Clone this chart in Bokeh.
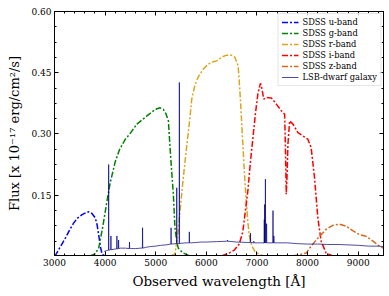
from bokeh.plotting import figure
from bokeh.models import (FixedTicker, PrintfTickFormatter, LinearAxis, Range1d,
                          Legend, LegendItem, CustomLabelingPolicy)
from bokeh.embed import file_html
from bokeh.resources import INLINE

# ---------------- data ----------------
u_wl = [3000, 3020, 3100, 3217, 3300, 3380, 3460, 3545, 3620, 3675, 3740, 3807, 3840, 3873, 3905, 3940, 4000]
u_f = [0.001, 0.003, 0.020, 0.045, 0.065, 0.082, 0.094, 0.102, 0.107, 0.109, 0.105, 0.094, 0.078, 0.053, 0.025, 0.005, 0.001]

g_wl = [3700, 3800, 3873, 3950, 4037, 4100, 4200, 4286, 4400, 4500, 4628, 4825, 4990, 5087, 5150, 5200,
        5250, 5283, 5320, 5348, 5380, 5420, 5447, 5520, 5610, 5700]
g_f = [0.001, 0.006, 0.020, 0.070, 0.135, 0.180, 0.232, 0.262, 0.287, 0.302, 0.324, 0.344, 0.360, 0.364, 0.360, 0.350,
       0.332, 0.266, 0.200, 0.152, 0.070, 0.032, 0.020, 0.010, 0.004, 0.001]

r_wl = [5300, 5380, 5430, 5480, 5530, 5590, 5640, 5680, 5711, 5776, 5841, 5940, 6039, 6138, 6204, 6302, 6400,
        6499, 6562, 6628, 6655, 6680, 6710, 6745, 6780, 6815, 6850, 6900, 6960, 7050, 7150]
r_f = [0.001, 0.006, 0.045, 0.110, 0.175, 0.245, 0.300, 0.345, 0.385, 0.420, 0.440, 0.459, 0.471, 0.477, 0.479, 0.488, 0.493,
       0.493, 0.488, 0.467, 0.420, 0.370, 0.300, 0.220, 0.150, 0.090, 0.050, 0.025, 0.012, 0.004, 0.001]

i_wl = [6300, 6450, 6550, 6650, 6720, 6770, 6820, 6870, 6920, 6970, 7020, 7069, 7100, 7134, 7187, 7285, 7383, 7480,
        7547, 7565, 7579, 7595, 7612, 7646, 7711, 7809, 7908, 8006, 8071, 8137, 8203, 8268, 8366, 8500]
i_f = [0.001, 0.008, 0.015, 0.030, 0.060, 0.110, 0.160, 0.230, 0.290, 0.350, 0.400, 0.424, 0.410, 0.385, 0.389, 0.388, 0.373, 0.357,
       0.348, 0.250, 0.152, 0.200, 0.275, 0.332, 0.324, 0.303, 0.295, 0.287, 0.266, 0.193, 0.094, 0.037, 0.008, 0.001]

z_wl = [7700, 7843, 7974, 8039, 8170, 8268, 8366, 8498, 8630, 8760, 8891, 9024, 9155, 9252, 9337, 9417, 9500]
z_f = [0.001, 0.004, 0.008, 0.020, 0.040, 0.053, 0.066, 0.076, 0.079, 0.074, 0.063, 0.053, 0.049, 0.041, 0.033, 0.025, 0.020]

# galaxy spectrum: continuum samples plus emission lines (centre, local continuum, peak)
cont_wl = [3980, 4030, 4100, 4200, 4300, 4400, 4500, 4600, 4700, 4800, 4900, 5000, 5100, 5200, 5300, 5400,
           5500, 5600, 5700, 5800, 5900, 6000, 6200, 6400, 6600, 6800, 7000, 7200, 7400, 7600, 7800, 8000,
           8200, 8400, 8600, 8800, 9000, 9200, 9400, 9500]
cont_f = [0.012, 0.014, 0.016, 0.018, 0.020, 0.020, 0.019, 0.019, 0.020, 0.022, 0.024, 0.025, 0.027, 0.028, 0.030, 0.031,
          0.032, 0.033, 0.033, 0.034, 0.035, 0.035, 0.036, 0.037, 0.035, 0.034, 0.033, 0.033, 0.033, 0.033, 0.031, 0.030,
          0.030, 0.029, 0.029, 0.028, 0.027, 0.025, 0.025, 0.024]
line_wl = [4070, 4115, 4233, 4266, 4482, 4740, 5303, 5415, 5467, 5664, 6418, 6871, 6937, 7145, 7152, 7167, 7190, 7317, 7334]
line_base = [0.015, 0.016, 0.018, 0.019, 0.019, 0.020, 0.030, 0.031, 0.031, 0.033, 0.037, 0.034, 0.033, 0.033, 0.033, 0.033, 0.033, 0.033, 0.033]
line_peak = [0.225, 0.050, 0.050, 0.040, 0.035, 0.070, 0.070, 0.168, 0.426, 0.060, 0.040, 0.057, 0.037, 0.090, 0.127, 0.189, 0.080, 0.112, 0.050]

# assemble the spectrum polyline from the listed values
pts = list(zip(cont_wl, cont_f))
for c, b, pk in zip(line_wl, line_base, line_peak):
    pts += [(c - 4, b), (c, pk), (c + 4, b)]
pts.sort()
spec_wl = [q[0] for q in pts]
spec_f = [q[1] for q in pts]

x_major = [3000, 4000, 5000, 6000, 7000, 8000, 9000]
x_minor = list(range(3000, 9600, 200))
y_major = [0.15, 0.30, 0.45, 0.60]
y_minor = [round(0.0375 * k, 4) for k in range(1, 17)]

# ---------------- figure ----------------
FONT = "DejaVu Serif"
p = figure(frame_width=329, frame_height=244,
           x_range=Range1d(3000, 9500), y_range=Range1d(0.002, 0.60),
           output_backend="svg", toolbar_location=None,
           min_border_left=54, min_border_right=6, min_border_top=11, min_border_bottom=4)
p.background_fill_color = "white"
p.outline_line_color = "black"
p.outline_line_width = 1
p.xgrid.visible = False
p.ygrid.visible = False

xt = FixedTicker(ticks=x_major, minor_ticks=x_minor)
yt = FixedTicker(ticks=y_major, minor_ticks=y_minor)

def style(ax):
    ax.major_tick_in = 4
    ax.major_tick_out = 0
    ax.minor_tick_in = 2
    ax.minor_tick_out = 0
    ax.axis_line_color = "black"
    ax.major_tick_line_color = "black"
    ax.minor_tick_line_color = "black"
    ax.major_label_text_font = FONT
    ax.major_label_text_font_size = "9px"
    ax.major_label_text_color = "black"
    ax.axis_label_text_font = FONT
    ax.axis_label_text_font_style = "normal"
    ax.axis_label_text_color = "black"

xa = p.xaxis[0]
xa.ticker = xt
style(xa)
xa.major_label_standoff = 3
xa.axis_label = "Observed wavelength [Å]"
xa.axis_label_text_font_size = "13.5px"
xa.axis_label_standoff = 4

ya = p.yaxis[0]
ya.ticker = yt
style(ya)
ya.formatter = PrintfTickFormatter(format="%.2f")
ya.major_label_standoff = 3
ya.axis_label = "Flux [x 10⁻¹⁷ erg/cm²/s]"
ya.axis_label_text_font_size = "13px"
ya.axis_label_standoff = 6

# tick-only mirror axes (top and right), no labels drawn
top = LinearAxis(ticker=xt, major_label_standoff=0,
                 major_label_policy=CustomLabelingPolicy(code="return []"))
style(top)
p.add_layout(top, "above")
right = LinearAxis(ticker=yt, major_label_standoff=0,
                   major_label_policy=CustomLabelingPolicy(code="return []"))
style(right)
p.add_layout(right, "right")

DASH = "6 2 2 2"
lu = p.line(u_wl, u_f, line_color="#0000ff", line_width=1.5, line_dash=DASH)
lg = p.line(g_wl, g_f, line_color="#008000", line_width=1.5, line_dash=DASH)
lr = p.line(r_wl, r_f, line_color="#daa520", line_width=1.5, line_dash=DASH)
li = p.line(i_wl, i_f, line_color="#ff0000", line_width=1.5, line_dash=DASH)
lz = p.line(z_wl, z_f, line_color="#d2691e", line_width=1.5, line_dash=DASH)
ls = p.line(spec_wl, spec_f, line_color="navy", line_alpha=0.7, line_width=1)

legend = Legend(items=[
    LegendItem(label="SDSS u-band", renderers=[lu]),
    LegendItem(label="SDSS g-band", renderers=[lg]),
    LegendItem(label="SDSS r-band", renderers=[lr]),
    LegendItem(label="SDSS i-band", renderers=[li]),
    LegendItem(label="SDSS z-band", renderers=[lz]),
    LegendItem(label="LSB-dwarf galaxy", renderers=[ls]),
], location="top_right")
legend.margin = 2
legend.padding = 3
legend.spacing = 1
legend.label_height = 10
legend.glyph_height = 10
legend.glyph_width = 17
legend.label_standoff = 4
legend.label_text_font = FONT
legend.label_text_font_size = "8.3px"
legend.label_text_color = "black"
legend.border_line_color = "#cccccc"
legend.border_line_width = 1
legend.background_fill_alpha = 0.8
p.add_layout(legend)

open("out.html", "w").write(file_html(p, INLINE))
